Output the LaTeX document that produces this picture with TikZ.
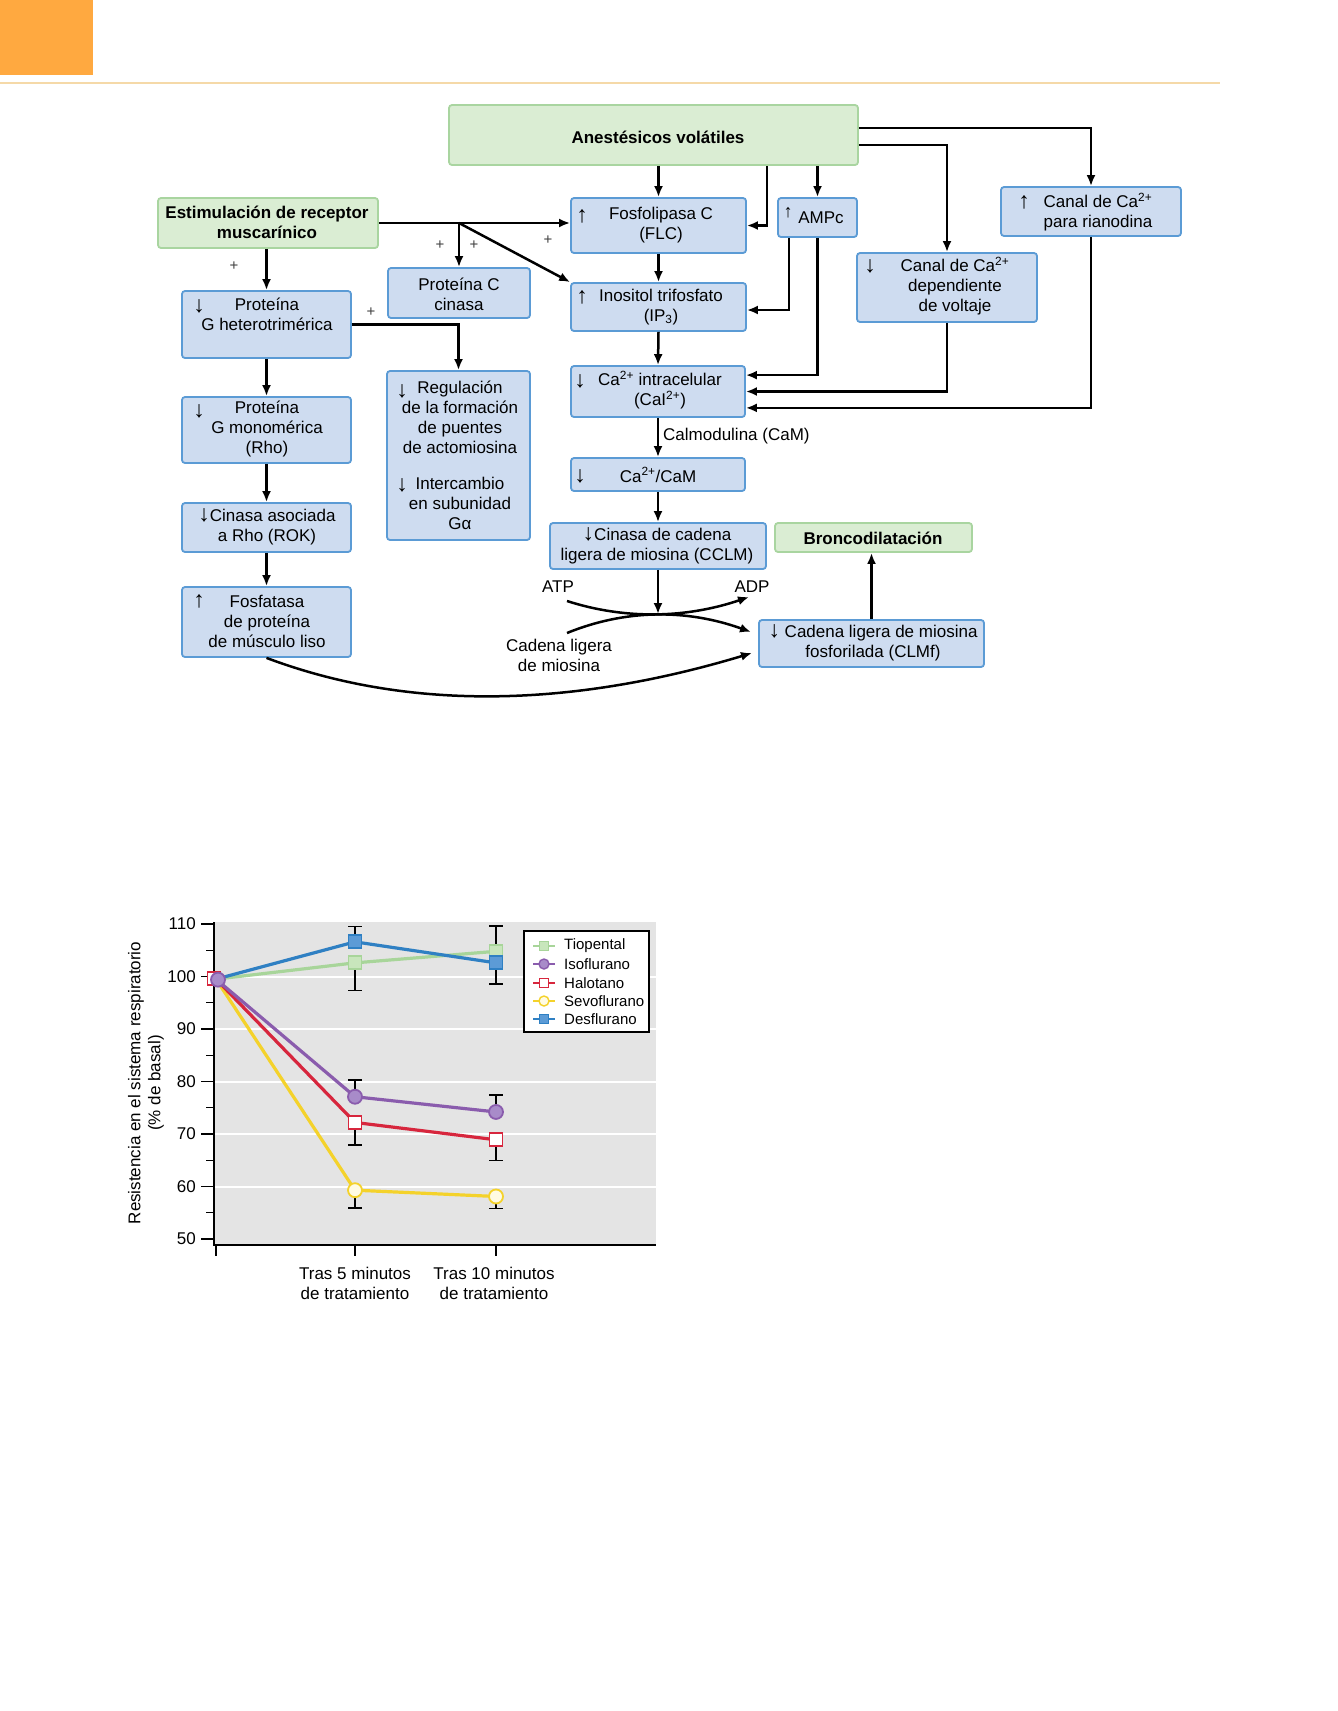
\documentclass[tikz,border=0pt]{standalone}
\usepackage{fontspec}
\setmainfont{Liberation Sans}
\usetikzlibrary{arrows.meta,calc}
\definecolor{boxfill}{HTML}{CEDCF0}
\definecolor{boxline}{HTML}{5B9BD5}
\definecolor{grfill}{HTML}{DAEDD3}
\definecolor{grline}{HTML}{A9D5A0}
\definecolor{orng}{HTML}{FFA940}
\definecolor{hdr}{HTML}{F5D9A8}
\definecolor{chartbg}{HTML}{E4E4E4}
\definecolor{ctio}{HTML}{A8D59A}
\definecolor{ctiof}{HTML}{C8E6BC}
\definecolor{ciso}{HTML}{8A5CAD}
\definecolor{cisof}{HTML}{A88BC9}
\definecolor{chal}{HTML}{D7263D}
\definecolor{csev}{HTML}{F4D22B}
\definecolor{csevf}{HTML}{FFFBE3}
\definecolor{cdes}{HTML}{2F80C3}
\definecolor{cdesf}{HTML}{5C9BD6}
\newcommand\bigar[1]{{\fontsize{23}{20}\selectfont #1}}
\begin{document}
\begin{tikzpicture}[x=1pt,y=-1pt,
  bb/.style={draw=boxline, fill=boxfill, rounded corners=3pt, line width=1.8pt, inner sep=0pt},
  gb/.style={draw=grline, fill=grfill, rounded corners=3pt, line width=1.8pt, inner sep=0pt},
  tx/.style={font=\fontsize{17}{20}\selectfont, align=center, inner sep=0pt},
  ax/.style={font=\fontsize{23}{20}\selectfont, inner sep=0pt},
  bt/.style={font=\fontsize{17}{20}\selectfont\bfseries, align=center, inner sep=0pt},
  lg/.style={font=\fontsize{15}{18}\selectfont, anchor=west, inner sep=0pt},
  pl/.style={font=\fontsize{15}{15}\selectfont, inner sep=0pt, text=black!75},
  con/.style={line width=2.5pt, -{Latex[length=11pt,width=9pt]}},
  eb/.style={line width=1.4pt},
  msq/.style={rectangle, minimum size=13pt, inner sep=0pt, line width=1.8pt},
  mci/.style={circle, minimum size=14pt, inner sep=0pt, line width=1.8pt},
  lsq/.style={rectangle, minimum size=9pt, inner sep=0pt, line width=1.4pt},
  lci/.style={circle, minimum size=10pt, inner sep=0pt, line width=1.4pt},
  dl/.style={line width=3.2pt}]
\useasboundingbox (0,0) rectangle (1338,1711);
\fill[white] (0,0) rectangle (1338,1711);
% header
\fill[orng] (0,0) rectangle (93,75);
\draw[hdr, line width=2.5pt] (0,83) -- (1220,83);

% ---- boxes ----
\node[gb, minimum width=409pt, minimum height=60pt] (anest) at (653.5,135) {};
\node[bt] (anest-t) at (658,137) {Anestésicos volátiles};
\node[gb, minimum width=220pt, minimum height=50pt] (estim) at (268,223) {};
\node[bt] (estim-t) at (267,222) {Estimulación de receptor\\muscarínico};
\node[bb, minimum width=175pt, minimum height=55pt] (flc) at (658.5,225.5) {};
\node[tx] (flc-t) at (661,225) {Fosfolipasa C\\(FLC)};
\node[ax] (flc-a) at (582,216) {↑};
\node[bb, minimum width=79pt, minimum height=39pt] (ampc) at (817.5,217.5) {};
\node[tx] (ampc-t) at (821,218) {AMPc};
\node[tx, font=\fontsize{18}{18}\selectfont] (ampc-a) at (788,213) {↑};
\node[bb, minimum width=180pt, minimum height=49pt] (ryan) at (1091,211.5) {};
\node[tx] (ryan-t) at (1098,212) {Canal de Ca\textsuperscript{2+}\\para rianodina};
\node[ax] (ryan-a) at (1024,202) {↑};
\node[bb, minimum width=180pt, minimum height=69pt] (volt) at (947,287.5) {};
\node[tx] (volt-t) at (955,286) {Canal de Ca\textsuperscript{2+}\\dependiente\\de voltaje};
\node[ax] (volt-a) at (870,266) {↓};
\node[bb, minimum width=142pt, minimum height=50pt] (pkc) at (459,293) {};
\node[tx] (pkc-t) at (459,294) {Proteína C\\cinasa};
\node[bb, minimum width=169pt, minimum height=67pt] (ghet) at (266.5,324.5) {};
\node[tx] (ghet-t) at (267,314) {Proteína\\G heterotrimérica};
\node[ax] (ghet-a) at (199,306) {↓};
\node[bb, minimum width=175pt, minimum height=48pt] (ip3) at (658.5,307) {};
\node[tx] (ip3-t) at (661,307) {Inositol trifosfato\\(IP\textsubscript{3})};
\node[ax] (ip3-a) at (582,297) {↑};
\node[bb, minimum width=143pt, minimum height=169pt] (reg) at (458.5,455.5) {};
\node[tx] (reg-t) at (460,455) {Regulación\\de la formación\\de puentes\\de actomiosina\\[16pt]Intercambio\\en subunidad\\Gα};
\node[ax] (reg-a1) at (402,391) {↓};
\node[ax] (reg-a2) at (402,485) {↓};
\node[bb, minimum width=169pt, minimum height=66pt] (gmono) at (266.5,430) {};
\node[tx] (gmono-t) at (267,429) {Proteína\\G monomérica\\(Rho)};
\node[ax] (gmono-a) at (199,411) {↓};
\node[bb, minimum width=174pt, minimum height=51pt] (ca) at (658,391.5) {};
\node[tx] (ca-t) at (660,390) {Ca\textsuperscript{2+} intracelular\\(CaI\textsuperscript{2+})};
\node[ax] (ca-a) at (580,381) {↓};
\node[bb, minimum width=174pt, minimum height=33pt] (cam) at (658,474.5) {};
\node[tx] (cam-t) at (658,475) {Ca\textsuperscript{2+}/CaM};
\node[ax] (cam-a) at (580,476) {↓};
\node[bb, minimum width=169pt, minimum height=49pt] (rok) at (266.5,527.5) {};
\node[tx] (rok-t) at (267,527) {\bigar{↓}Cinasa asociada\\a Rho (ROK)};
\node[bb, minimum width=216pt, minimum height=46pt] (cclm) at (658,546) {};
\node[tx] (cclm-t) at (657,546) {\bigar{↓}Cinasa de cadena\\ligera de miosina (CCLM)};
\node[gb, minimum width=197pt, minimum height=29pt] (bronco) at (873.5,537.5) {};
\node[bt] (bronco-t) at (873,538) {Broncodilatación};
\node[bb, minimum width=169pt, minimum height=70pt] (fosf) at (266.5,622) {};
\node[tx] (fosf-t) at (267,621) {Fosfatasa\\de proteína\\de músculo liso};
\node[ax] (fosf-a) at (199,601) {↑};
\node[bb, minimum width=225pt, minimum height=47pt] (clmf) at (871.5,643.5) {};
\node[tx] (clmf-t) at (873,643) {\bigar{↓} Cadena ligera de miosina\\fosforilada (CLMf)};

% labels
\node[tx, anchor=west] (calm) at (663,436) {Calmodulina (CaM)};
\node[tx] (atp) at (558,587) {ATP};
\node[tx] (adp) at (752,587) {ADP};
\node[tx] (cadl) at (559,655) {Cadena ligera\\de miosina};
\node[pl] (p1) at (440,245) {+};
\node[pl] (p2) at (474,245) {+};
\node[pl] (p3) at (548,240) {+};
\node[pl] (p4) at (234,266) {+};
\node[pl] (p5) at (371,312) {+};

% ---- connectors ----
\coordinate (br) at (pkc.north |- estim.east);
\coordinate (jn) at (658,614);
\draw[con] (estim.east) -- (flc.west |- estim.east);
\draw[con] (br) -- (pkc.north);
\draw[con] (br) -- (ip3.north west);
\draw[con] (ghet.north |- estim.south) -- (ghet.north);
\draw[con] (ghet.east) -| (reg.north);
\draw[con] (ghet.south) -- (gmono.north);
\draw[con] (gmono.south) -- (rok.north);
\draw[con] (rok.south) -- (fosf.north);
\draw[con] (flc.north |- anest.south) -- (flc.north);
\draw[con] ($(anest.south)+(113.5,0)$) |- (flc.east);
\draw[con] (ampc.north |- anest.south) -- (ampc.north);
\draw[con] ($(anest.north east)+(0,24)$) -| (ryan.north);
\draw[con] ($(anest.north east)+(0,41)$) -| (volt.north);
\draw[con] ($(ampc.south west)+(12,0)$) |- ($(ip3.east)+(0,3)$);
\draw[con] (ampc.south) |- ($(ca.north east)+(0,10)$);
\draw[con] (volt.south) |- (ca.east);
\draw[con] (ryan.south) |- ($(ca.south east)+(0,-10)$);
\draw[con] (flc.south) -- (ip3.north);
\draw[con] (ip3.south) -- (ca.north);
\draw[con] (ca.south) -- (cam.north);
\draw[con] (cam.south) -- (cclm.north);
\draw[con] (cclm.south) -- (jn);
\draw[con] (clmf.north) -- (clmf.north |- bronco.south);
\coordinate (atpS) at (567,601);
\coordinate (adpE) at (749,597);
\coordinate (cadS) at (567,633);
\coordinate (clE1) at (751,632);
\coordinate (fosfE) at (752,653);
\draw[con] (atpS) .. controls (626,620) and (687,618) .. (adpE);
\draw[con] (cadS) .. controls (626,609) and (687,609) .. (clE1);
\draw[con] (fosf.south) .. controls (405,710) and (566,709) .. (fosfE);

% ---- chart ----
\fill[chartbg] (214,922) rectangle (656,1245);
\foreach \v in {60,70,80,90,100}
  \draw[white, line width=2pt] (214,{1501.5-5.25*\v}) -- (656,{1501.5-5.25*\v});
\foreach \v in {50,60,...,110} {
  \draw[line width=1.3pt] (201,{1501.5-5.25*\v}) -- (214,{1501.5-5.25*\v});
  \node[tx, anchor=east] (yl\v) at (196,{1501.5-5.25*\v}) {\v};
}
\foreach \v in {55,65,...,105}
  \draw[line width=1.3pt] (206,{1501.5-5.25*\v}) -- (214,{1501.5-5.25*\v});
\draw[line width=1.5pt] (214,922) -- (214,1245) -- (656,1245);
\foreach \x in {216,355,496}
  \draw[line width=1.5pt] (\x,1245) -- (\x,1256);
\node[tx, rotate=90] (ylab) at (146,1083) {Resistencia en el sistema respiratorio\\(\% de basal)};
\node[tx] (xl1) at (355,1283) {Tras 5 minutos\\de tratamiento};
\node[tx] (xl2) at (494,1283) {Tras 10 minutos\\de tratamiento};

\begin{scope}[y=5.25pt, shift={(0pt,-1501.5pt)}]
  % lines
  \draw[dl, ctio] (216,99.5) -- (355,102.6) -- (496,104.8);
  \draw[dl, csev] (216,99.5) -- (355,59.3) -- (496,58.1);
  \draw[dl, chal] (216,99.5) -- (355,72.2) -- (496,68.9);
  \draw[dl, ciso] (216,99.5) -- (355,77.1) -- (496,74.2);
  \draw[dl, cdes] (216,99.5) -- (355,106.6) -- (496,102.6);
  % error bars
  \draw[eb] (355,102.6) -- (355,97.3) (348,97.3) -- (362,97.3);
  \draw[eb] (355,106.6) -- (355,109.5) (348,109.5) -- (362,109.5);
  \draw[eb] (496,104.8) -- (496,109.6) (489,109.6) -- (503,109.6);
  \draw[eb] (496,102.6) -- (496,98.6) (489,98.6) -- (503,98.6);
  \draw[eb] (355,77.1) -- (355,80.3) (348,80.3) -- (362,80.3);
  \draw[eb] (496,74.2) -- (496,77.4) (489,77.4) -- (503,77.4);
  \draw[eb] (355,72.2) -- (355,67.9) (348,67.9) -- (362,67.9);
  \draw[eb] (496,68.9) -- (496,64.9) (489,64.9) -- (503,64.9);
  \draw[eb] (355,59.3) -- (355,55.9) (348,55.9) -- (362,55.9);
  \draw[eb] (496,58.1) -- (496,55.8) (489,55.8) -- (503,55.8);
  % markers
  \node[msq, draw=ctio, fill=ctiof] (t1) at (355,102.6) {};
  \node[msq, draw=ctio, fill=ctiof] (t2) at (496,104.8) {};
  \node[mci, draw=csev, fill=csevf] (s1) at (355,59.3) {};
  \node[mci, draw=csev, fill=csevf] (s2) at (496,58.1) {};
  \node[msq, draw=chal, fill=white] (h1) at (355,72.2) {};
  \node[msq, draw=chal, fill=white] (h2) at (496,68.9) {};
  \node[mci, draw=ciso, fill=cisof] (i1) at (355,77.1) {};
  \node[mci, draw=ciso, fill=cisof] (i2) at (496,74.2) {};
  \node[msq, draw=cdes, fill=cdesf] (d1) at (355,106.6) {};
  \node[msq, draw=cdes, fill=cdesf] (d2) at (496,102.6) {};
  \node[msq, draw=chal, fill=white] (h0) at (214,99.6) {};
  \node[mci, draw=ciso, fill=cisof] (i0) at (218,99.4) {};
\end{scope}

% legend
\draw[fill=white, line width=1.2pt] (524,931) rectangle (649,1032);
\draw[dl, ctio, line width=2.4pt] (533,946) -- (555,946);
\node[lsq, draw=ctio, fill=ctiof] (lm1) at (544,946) {};
\node[lg] (lt1) at (564,946) {Tiopental};
\draw[dl, ciso, line width=2.4pt] (533,964) -- (555,964);
\node[lci, draw=ciso, fill=cisof] (lm2) at (544,964) {};
\node[lg] (lt2) at (564,964) {Isoflurano};
\draw[dl, chal, line width=2.4pt] (533,983) -- (555,983);
\node[lsq, draw=chal, fill=white] (lm3) at (544,983) {};
\node[lg] (lt3) at (564,983) {Halotano};
\draw[dl, csev, line width=2.4pt] (533,1001) -- (555,1001);
\node[lci, draw=csev, fill=csevf] (lm4) at (544,1001) {};
\node[lg] (lt4) at (564,1001) {Sevoflurano};
\draw[dl, cdes, line width=2.4pt] (533,1019) -- (555,1019);
\node[lsq, draw=cdes, fill=cdesf] (lm5) at (544,1019) {};
\node[lg] (lt5) at (564,1019) {Desflurano};
\end{tikzpicture}
\end{document}
